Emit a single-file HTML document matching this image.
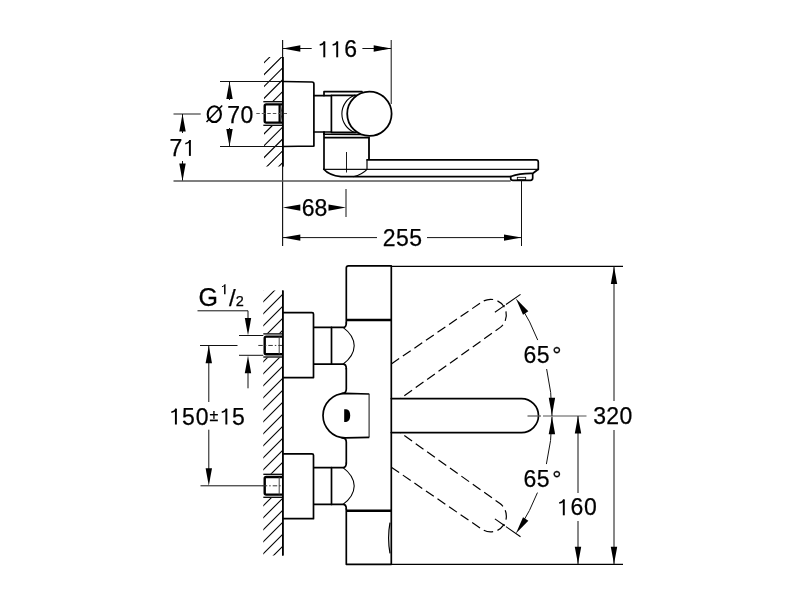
<!DOCTYPE html>
<html><head><meta charset="utf-8"><style>
html,body{margin:0;padding:0;background:#fff;width:800px;height:600px;overflow:hidden}
svg{display:block;will-change:transform}
text{font-family:"Liberation Sans",sans-serif;fill:#000;stroke:#000;stroke-width:0.25px}
</style></head><body>
<svg width="800" height="600" viewBox="0 0 800 600">
<clipPath id="h1"><rect x="264" y="57" width="18.8" height="109.5"/></clipPath>
<path d="M250,53.10 L300,3.10 M250,64.95 L300,14.95 M250,76.80 L300,26.80 M250,88.65 L300,38.65 M250,100.50 L300,50.50 M250,112.35 L300,62.35 M250,124.20 L300,74.20 M250,136.05 L300,86.05 M250,147.90 L300,97.90 M250,159.75 L300,109.75 M250,171.60 L300,121.60 M250,183.45 L300,133.45 M250,195.30 L300,145.30 M250,207.15 L300,157.15 M250,219.00 L300,169.00 M250,230.85 L300,180.85" stroke="#000" stroke-width="1.1" fill="none" clip-path="url(#h1)"/>
<line x1="282.60" y1="40.00" x2="282.60" y2="246.00" stroke="#111" stroke-width="1.15"/>
<line x1="282.80" y1="57.00" x2="282.80" y2="166.50" stroke="#000" stroke-width="1.6"/>
<rect x="263" y="101.2" width="19.6" height="24.599999999999994" fill="#fff"/>
<line x1="263.30" y1="101.70" x2="282.70" y2="101.70" stroke="#000" stroke-width="1.3"/>
<line x1="263.30" y1="125.30" x2="282.70" y2="125.30" stroke="#000" stroke-width="1.3"/>
<path d="M282,104.4 L266.2,104.4 Q264.7,104.4 264.7,105.9 L264.7,121.1 Q264.7,122.6 266.2,122.6 L282,122.6" stroke="#000" stroke-width="2.4" fill="none"/>
<path d="M279.6,104.4 L279.6,122.6" stroke="#000" stroke-width="2.2" fill="none"/>
<path d="M280.8,104.9 Q283,113.5 280.8,122.1" stroke="#222" stroke-width="0.9" fill="none"/>
<line x1="256.30" y1="113.50" x2="287.00" y2="113.50" stroke="#555" stroke-width="1" stroke-dasharray="3.5,2"/>
<line x1="282.80" y1="57.00" x2="282.80" y2="166.50" stroke="#000" stroke-width="1.6"/>
<line x1="173.50" y1="114.00" x2="200.70" y2="114.00" stroke="#444" stroke-width="1.2"/>
<line x1="220.00" y1="81.50" x2="282.80" y2="81.50" stroke="#111" stroke-width="1" fill="none"/>
<line x1="220.00" y1="146.50" x2="313.90" y2="146.50" stroke="#111" stroke-width="1" fill="none"/>
<path d="M229.50,81.50 L232.70,99.00 L226.30,99.00 Z" fill="#000"/>
<path d="M229.50,146.50 L226.30,129.00 L232.70,129.00 Z" fill="#000"/>
<line x1="229.50" y1="81.50" x2="229.50" y2="100.00" stroke="#111" stroke-width="1" fill="none"/>
<line x1="229.50" y1="128.00" x2="229.50" y2="146.50" stroke="#111" stroke-width="1" fill="none"/>
<ellipse cx="214.3" cy="114.15" rx="6.6" ry="7.9" stroke="#000" stroke-width="2.1" fill="none"/>
<line x1="206.50" y1="122.00" x2="222.20" y2="105.60" stroke="#000" stroke-width="1.5"/>
<text x="227.22" y="122.60" font-size="23">7</text>
<text x="240.60" y="122.60" font-size="23">0</text>
<line x1="182.50" y1="114.00" x2="182.50" y2="133.00" stroke="#111" stroke-width="1" fill="none"/>
<line x1="182.50" y1="161.00" x2="182.50" y2="181.00" stroke="#111" stroke-width="1" fill="none"/>
<path d="M182.50,114.00 L185.70,131.50 L179.30,131.50 Z" fill="#000"/>
<path d="M182.50,181.00 L179.30,163.50 L185.70,163.50 Z" fill="#000"/>
<text x="169.62" y="155.90" font-size="23">7</text>
<path d="M189.90,140.08 L189.90,155.90" stroke="#000" stroke-width="1.95" fill="none"/>
<path d="M190.30,140.28 Q188.70,143.08 185.30,143.68" stroke="#000" stroke-width="1.60" fill="none"/>
<line x1="173.50" y1="181.00" x2="510.70" y2="181.00" stroke="#555" stroke-width="1.3"/>
<line x1="282.80" y1="48.50" x2="311.70" y2="48.50" stroke="#111" stroke-width="1" fill="none"/>
<line x1="362.40" y1="48.50" x2="391.20" y2="48.50" stroke="#111" stroke-width="1" fill="none"/>
<path d="M282.80,48.50 L300.30,45.30 L300.30,51.70 Z" fill="#000"/>
<path d="M391.20,48.50 L373.70,51.70 L373.70,45.30 Z" fill="#000"/>
<line x1="391.20" y1="40.00" x2="391.20" y2="104.00" stroke="#111" stroke-width="1" fill="none"/>
<path d="M324.30,41.48 L324.30,57.30" stroke="#000" stroke-width="1.95" fill="none"/>
<path d="M324.70,41.68 Q323.10,44.48 319.70,45.08" stroke="#000" stroke-width="1.60" fill="none"/>
<path d="M337.20,41.48 L337.20,57.30" stroke="#000" stroke-width="1.95" fill="none"/>
<path d="M337.60,41.68 Q336.00,44.48 332.60,45.08" stroke="#000" stroke-width="1.60" fill="none"/>
<text x="344.33" y="57.30" font-size="23">6</text>
<path d="M282.8,81.5 L312,82 Q313.9,82 313.9,84 L313.9,146 L282.8,146.5" stroke="#000" stroke-width="1.7" fill="none" stroke-linejoin="round" stroke-linecap="round"/>
<path d="M313.9,95.6 L331.4,95.6 L331.4,132 L313.9,132" stroke="#000" stroke-width="1.7" fill="none" stroke-linejoin="round" stroke-linecap="round"/>
<path d="M324,95.6 L324,91.7 L362,91.7" stroke="#000" stroke-width="1.7" fill="none" stroke-linejoin="round" stroke-linecap="round"/>
<path d="M331.4,95.3 L356,95.3" stroke="#000" stroke-width="1.7" fill="none" stroke-linejoin="round" stroke-linecap="round"/>
<path d="M331.4,132.3 L356,132.3" stroke="#000" stroke-width="1.7" fill="none" stroke-linejoin="round" stroke-linecap="round"/>
<path d="M324,132 L324,134.2 L362,134.4" stroke="#000" stroke-width="1.7" fill="none" stroke-linejoin="round" stroke-linecap="round"/>
<circle cx="369.4" cy="113.75" r="22.2" stroke="#000" stroke-width="1.8" fill="#fff"/>
<path d="M355.2,95 A20,20 0 0 0 355.2,132.7" stroke="#000" stroke-width="1.1" fill="none"/>
<path d="M324,137.6 L369,137.6 L369,159.8" stroke="#000" stroke-width="1.8" fill="none"/>
<path d="M324,132 L324,169" stroke="#000" stroke-width="1.7" fill="none" stroke-linejoin="round" stroke-linecap="round"/>
<path d="M367,159.8 L536,159.8 Q538.3,159.8 538.3,162 L538.3,169.3" stroke="#000" stroke-width="1.7" fill="none" stroke-linejoin="round" stroke-linecap="round"/>
<path d="M367,169.3 L324,169.3" stroke="#111" stroke-width="1.35" fill="none"/>
<path d="M538.3,169.3 L367,169.3 L367,159.8" stroke="#111" stroke-width="1.25" fill="none"/>
<path d="M323.8,169.2 Q329,175.2 341,176.7 L510.7,176.7" stroke="#000" stroke-width="1.7" fill="none" stroke-linejoin="round" stroke-linecap="round"/>
<path d="M367,169.3 Q362.5,174.3 353.2,176.7" stroke="#000" stroke-width="1.1" fill="none"/>
<line x1="346.50" y1="152.00" x2="346.50" y2="172.50" stroke="#000" stroke-width="0.9"/>
<path d="M538.3,169.3 L533,173.3 Q520,173 510.7,176.5 L510.7,178.5 Q510.7,180.3 513,180.3 L530.5,180.3 Q532.7,180.3 532.7,178 L532.7,173.3" stroke="#000" stroke-width="1.7" fill="none" stroke-linejoin="round" stroke-linecap="round"/>
<rect x="517.3" y="177.3" width="8.4" height="2.4" stroke="#000" stroke-width="0.8" fill="none"/>
<line x1="521.50" y1="180.30" x2="521.50" y2="246.00" stroke="#111" stroke-width="1" fill="none"/>
<line x1="346.00" y1="189.00" x2="346.00" y2="217.00" stroke="#111" stroke-width="1" fill="none"/>
<path d="M282.80,207.60 L300.30,204.40 L300.30,210.80 Z" fill="#000"/>
<path d="M346.00,207.60 L328.50,210.80 L328.50,204.40 Z" fill="#000"/>
<text x="301.83" y="216.30" font-size="23">6</text>
<text x="314.60" y="216.30" font-size="23">8</text>
<line x1="282.80" y1="237.60" x2="377.00" y2="237.60" stroke="#111" stroke-width="1" fill="none"/>
<line x1="427.00" y1="237.60" x2="521.50" y2="237.60" stroke="#111" stroke-width="1" fill="none"/>
<path d="M282.80,237.60 L300.30,234.40 L300.30,240.80 Z" fill="#000"/>
<path d="M521.50,237.60 L504.00,240.80 L504.00,234.40 Z" fill="#000"/>
<text x="382.64" y="246.10" font-size="23">2</text>
<text x="396.08" y="246.10" font-size="23">5</text>
<text x="409.28" y="246.10" font-size="23">5</text>
<clipPath id="h2"><rect x="263.3" y="290.6" width="19.5" height="264.8"/></clipPath>
<path d="M250,279.00 L300,229.00 M250,291.00 L300,241.00 M250,303.00 L300,253.00 M250,315.00 L300,265.00 M250,327.00 L300,277.00 M250,339.00 L300,289.00 M250,351.00 L300,301.00 M250,363.00 L300,313.00 M250,375.00 L300,325.00 M250,387.00 L300,337.00 M250,399.00 L300,349.00 M250,411.00 L300,361.00 M250,423.00 L300,373.00 M250,435.00 L300,385.00 M250,447.00 L300,397.00 M250,459.00 L300,409.00 M250,471.00 L300,421.00 M250,483.00 L300,433.00 M250,495.00 L300,445.00 M250,507.00 L300,457.00 M250,519.00 L300,469.00 M250,531.00 L300,481.00 M250,543.00 L300,493.00 M250,555.00 L300,505.00 M250,567.00 L300,517.00 M250,579.00 L300,529.00 M250,591.00 L300,541.00 M250,603.00 L300,553.00 M250,615.00 L300,565.00 M250,627.00 L300,577.00" stroke="#000" stroke-width="1.1" fill="none" clip-path="url(#h2)"/>
<line x1="282.80" y1="290.60" x2="282.80" y2="555.40" stroke="#000" stroke-width="1.6"/>
<rect x="263" y="333.4" width="19.6" height="24.100000000000023" fill="#fff"/>
<line x1="263.30" y1="333.90" x2="282.70" y2="333.90" stroke="#000" stroke-width="1.3"/>
<line x1="263.30" y1="357.00" x2="282.70" y2="357.00" stroke="#000" stroke-width="1.3"/>
<path d="M282,336.59999999999997 L266.2,336.59999999999997 Q264.7,336.59999999999997 264.7,338.09999999999997 L264.7,352.8 Q264.7,354.3 266.2,354.3 L282,354.3" stroke="#000" stroke-width="2.4" fill="none"/>
<line x1="279.20" y1="336.60" x2="279.20" y2="354.30" stroke="#444" stroke-width="1"/>
<line x1="258.30" y1="345.45" x2="282.00" y2="345.45" stroke="#333" stroke-width="1" stroke-dasharray="4.5,2,1.5,2"/>
<rect x="263" y="473.8" width="19.6" height="24.0" fill="#fff"/>
<line x1="263.30" y1="474.30" x2="282.70" y2="474.30" stroke="#000" stroke-width="1.3"/>
<line x1="263.30" y1="497.30" x2="282.70" y2="497.30" stroke="#000" stroke-width="1.3"/>
<path d="M282,477.0 L266.2,477.0 Q264.7,477.0 264.7,478.5 L264.7,493.1 Q264.7,494.6 266.2,494.6 L282,494.6" stroke="#000" stroke-width="2.4" fill="none"/>
<line x1="279.20" y1="477.00" x2="279.20" y2="494.60" stroke="#444" stroke-width="1"/>
<line x1="262.70" y1="485.80" x2="282.00" y2="485.80" stroke="#333" stroke-width="1" stroke-dasharray="4.5,2,1.5,2"/>
<line x1="282.80" y1="290.60" x2="282.80" y2="555.40" stroke="#000" stroke-width="1.6"/>
<text x="198.54" y="306.00" font-size="25">G</text>
<path d="M224.80,284.53 L224.80,294.30" stroke="#000" stroke-width="1.48" fill="none"/>
<path d="M225.05,284.65 Q224.06,286.38 221.96,286.75" stroke="#000" stroke-width="0.99" fill="none"/>
<text x="229.00" y="306.30" font-size="24">/</text>
<text x="235.67" y="306.30" font-size="14.5">2</text>
<path d="M197.5,310.8 L248,310.8 L248,319" stroke="#111" stroke-width="1" fill="none"/>
<path d="M248.00,335.50 L244.80,318.00 L251.20,318.00 Z" fill="#000"/>
<line x1="239.00" y1="335.50" x2="263.30" y2="335.50" stroke="#111" stroke-width="1" fill="none"/>
<line x1="239.00" y1="355.30" x2="263.30" y2="355.30" stroke="#111" stroke-width="1" fill="none"/>
<path d="M248.00,355.80 L251.20,373.30 L244.80,373.30 Z" fill="#000"/>
<line x1="248.00" y1="372.00" x2="248.00" y2="388.30" stroke="#111" stroke-width="1" fill="none"/>
<line x1="200.00" y1="345.50" x2="237.50" y2="345.50" stroke="#111" stroke-width="1" fill="none"/>
<line x1="208.80" y1="345.80" x2="208.80" y2="402.00" stroke="#111" stroke-width="1" fill="none"/>
<path d="M208.80,345.80 L212.00,363.30 L205.60,363.30 Z" fill="#000"/>
<path d="M175.90,408.68 L175.90,424.50" stroke="#000" stroke-width="1.95" fill="none"/>
<path d="M176.30,408.88 Q174.70,411.68 171.30,412.28" stroke="#000" stroke-width="1.60" fill="none"/>
<text x="181.98" y="424.50" font-size="23">5</text>
<text x="195.80" y="424.50" font-size="23">0</text>
<path d="M226.35,408.68 L226.35,424.50" stroke="#000" stroke-width="1.95" fill="none"/>
<path d="M226.75,408.88 Q225.15,411.68 221.75,412.28" stroke="#000" stroke-width="1.60" fill="none"/>
<text x="231.98" y="424.50" font-size="23">5</text>
<text x="209.49" y="421.10" font-size="16">±</text>
<line x1="208.80" y1="429.70" x2="208.80" y2="470.00" stroke="#111" stroke-width="1" fill="none"/>
<path d="M208.80,485.80 L205.60,468.30 L212.00,468.30 Z" fill="#000"/>
<line x1="200.50" y1="485.80" x2="263.30" y2="485.80" stroke="#111" stroke-width="1" fill="none"/>
<path d="M282.8,312.6 L312,312.6 Q313.5,312.6 313.5,314 L313.5,377.6 L282.8,377.6" stroke="#000" stroke-width="1.7" fill="none" stroke-linejoin="round" stroke-linecap="round"/>
<path d="M282.8,453.8 L312,453.8 Q313.5,453.8 313.5,455.2 L313.5,518.7 L282.8,518.7" stroke="#000" stroke-width="1.7" fill="none" stroke-linejoin="round" stroke-linecap="round"/>
<path d="M314,327.4 L343,327.4 Q346.3,327.4 346.3,322.9" stroke="#000" stroke-width="1.7" fill="none" stroke-linejoin="round" stroke-linecap="round"/>
<path d="M314,364.2 L343,364.2 Q346.3,364.2 346.3,368.7" stroke="#000" stroke-width="1.7" fill="none" stroke-linejoin="round" stroke-linecap="round"/>
<path d="M331.5,327.4 L331.5,364.2" stroke="#000" stroke-width="1.7" fill="none" stroke-linejoin="round" stroke-linecap="round"/>
<path d="M343,327.4 C348.5,331.4 354,337.79999999999995 354.2,345.79999999999995 C354,353.79999999999995 348.5,360.2 343,364.2" stroke="#000" stroke-width="1.1" fill="none"/>
<path d="M314,467.6 L343,467.6 Q346.3,467.6 346.3,463.1" stroke="#000" stroke-width="1.7" fill="none" stroke-linejoin="round" stroke-linecap="round"/>
<path d="M314,504.4 L343,504.4 Q346.3,504.4 346.3,508.9" stroke="#000" stroke-width="1.7" fill="none" stroke-linejoin="round" stroke-linecap="round"/>
<path d="M331.5,467.6 L331.5,504.4" stroke="#000" stroke-width="1.7" fill="none" stroke-linejoin="round" stroke-linecap="round"/>
<path d="M343,467.6 C348.5,471.6 354,478.0 354.2,486.0 C354,494.0 348.5,500.4 343,504.4" stroke="#000" stroke-width="1.1" fill="none"/>
<path d="M346.3,322.9 L346.3,268 Q346.3,265.9 348.5,265.9 L391.3,265.9 L391.3,564.3 L346.3,564.3 L346.3,508.9" stroke="#000" stroke-width="1.7" fill="none" stroke-linejoin="round" stroke-linecap="round"/>
<line x1="346.30" y1="319.90" x2="391.30" y2="319.90" stroke="#000" stroke-width="2.5"/>
<line x1="346.30" y1="510.80" x2="391.30" y2="510.80" stroke="#000" stroke-width="2.5"/>
<path d="M346.3,368.7 L346.3,389 Q346.3,393.4 342,393.4" stroke="#000" stroke-width="1.7" fill="none" stroke-linejoin="round" stroke-linecap="round"/>
<path d="M346.3,463.1 L346.3,442 Q346.3,437.8 342,437.8" stroke="#000" stroke-width="1.7" fill="none" stroke-linejoin="round" stroke-linecap="round"/>
<path d="M369.3,394 L345.2,393.4 A22.2,22.2 0 0 0 345.2,437.8 L369.3,437.3 Z" fill="#fff"/>
<path d="M369.3,394 L345.2,393.4 A22.2,22.2 0 0 0 345.2,437.8 L369.3,437.3" stroke="#000" stroke-width="1.7" fill="none"/>
<line x1="369.10" y1="394.00" x2="369.10" y2="437.30" stroke="#222" stroke-width="1.1"/>
<path d="M344.2,409.3 L346.2,409.3 Q350.2,409.6 350.2,415.6 Q350.2,421.6 346.2,422 L344.2,422 Z" fill="#000"/>
<path d="M390,522.7 Q387.2,538 390,553.3" stroke="#000" stroke-width="1.2" fill="none"/>
<path d="M391.3,398.6 L521.5,398.6 A17,17 0 0 1 521.5,432.6 L391.3,432.6" stroke="#000" stroke-width="1.7" fill="none" stroke-linejoin="round" stroke-linecap="round"/>
<path d="M391.30,363.98 L482.02,301.88 A15.7,15.7 0 0 1 499.97,327.63 L400.16,398.60" stroke="#000" stroke-width="1.2" fill="none" stroke-dasharray="9.5,4.5"/>
<path d="M494.89,312.28 L520.52,294.41" stroke="#000" stroke-width="1.1" fill="none" stroke-dasharray="12,1.5,30"/>
<path d="M391.30,363.98 L482.02,301.88 A15.7,15.7 0 0 1 499.97,327.63 L400.16,398.60" stroke="#000" stroke-width="1.2" fill="none" stroke-dasharray="9.5,4.5" transform="matrix(1,0,0,-1,0,831.2)"/>
<path d="M494.89,312.28 L520.52,294.41" stroke="#000" stroke-width="1.1" fill="none" stroke-dasharray="12,1.5,30" transform="matrix(1,0,0,-1,0,831.2)"/>
<line x1="527.50" y1="416.00" x2="541.00" y2="416.00" stroke="#555" stroke-width="1.2"/>
<line x1="543.00" y1="416.00" x2="586.50" y2="416.00" stroke="#555" stroke-width="1.2"/>
<path d="M552.00,416.00 A209.0,209.0 0 0 0 546.64,368.99" stroke="#111" stroke-width="1" fill="none"/>
<path d="M537.72,340.08 A209.0,209.0 0 0 0 519.85,304.63" stroke="#111" stroke-width="1" fill="none"/>
<path d="M515.86,298.52 L528.34,311.20 L523.05,314.80 Z" fill="#000"/>
<path d="M552.00,415.27 L548.74,397.78 L555.14,397.76 Z" fill="#000"/>
<path d="M552.00,416.73 A209.0,209.0 0 0 1 546.39,464.08" stroke="#111" stroke-width="1" fill="none"/>
<path d="M537.46,492.60 A209.0,209.0 0 0 1 519.85,527.37" stroke="#111" stroke-width="1" fill="none"/>
<path d="M552.00,416.73 L555.14,434.24 L548.74,434.22 Z" fill="#000"/>
<path d="M515.86,533.48 L523.05,517.20 L528.34,520.80 Z" fill="#000"/>
<text x="523.53" y="363.00" font-size="23">6</text>
<text x="536.68" y="363.00" font-size="23">5</text>
<text x="552.13" y="363.00" font-size="23">°</text>
<text x="523.53" y="487.00" font-size="23">6</text>
<text x="536.68" y="487.00" font-size="23">5</text>
<text x="552.13" y="487.00" font-size="23">°</text>
<line x1="391.30" y1="266.40" x2="623.00" y2="266.40" stroke="#000" stroke-width="1.1"/>
<line x1="391.30" y1="564.40" x2="623.00" y2="564.40" stroke="#000" stroke-width="1.1"/>
<line x1="614.00" y1="266.40" x2="614.00" y2="401.00" stroke="#111" stroke-width="1" fill="none"/>
<line x1="614.00" y1="430.00" x2="614.00" y2="564.30" stroke="#111" stroke-width="1" fill="none"/>
<path d="M614.00,266.40 L617.20,283.90 L610.80,283.90 Z" fill="#000"/>
<path d="M614.00,564.30 L610.80,546.80 L617.20,546.80 Z" fill="#000"/>
<text x="593.22" y="424.10" font-size="23">3</text>
<text x="606.14" y="424.10" font-size="23">2</text>
<text x="619.60" y="424.10" font-size="23">0</text>
<line x1="578.00" y1="416.00" x2="578.00" y2="493.00" stroke="#111" stroke-width="1" fill="none"/>
<line x1="578.00" y1="521.00" x2="578.00" y2="564.30" stroke="#111" stroke-width="1" fill="none"/>
<path d="M578.00,416.00 L581.20,433.50 L574.80,433.50 Z" fill="#000"/>
<path d="M578.00,564.30 L574.80,546.80 L581.20,546.80 Z" fill="#000"/>
<path d="M563.80,499.48 L563.80,515.30" stroke="#000" stroke-width="1.95" fill="none"/>
<path d="M564.20,499.68 Q562.60,502.48 559.20,503.08" stroke="#000" stroke-width="1.60" fill="none"/>
<text x="570.53" y="515.30" font-size="23">6</text>
<text x="584.00" y="515.30" font-size="23">0</text>
</svg>
</body></html>
